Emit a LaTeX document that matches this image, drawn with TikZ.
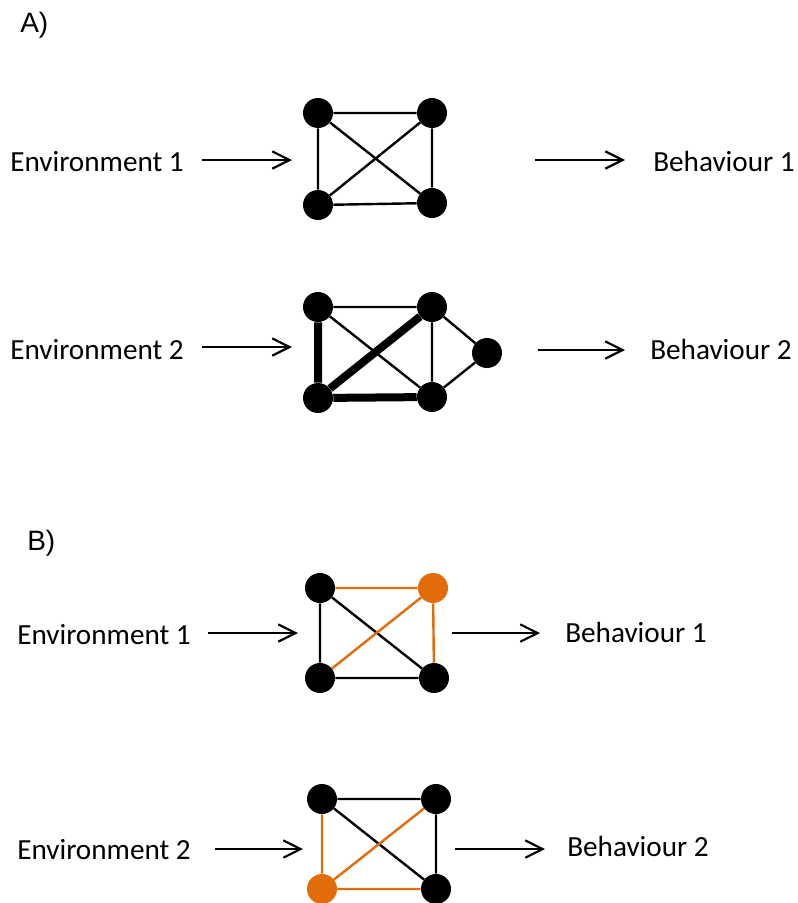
\documentclass[tikz,border=0pt]{standalone}
\usepackage{fontspec}
\setmainfont{Carlito}
\newfontfamily\labelfont{Liberation Sans}
\usetikzlibrary{arrows.meta}
\definecolor{accent}{RGB}{227,108,10}
\begin{document}
\begin{tikzpicture}[x=0.75pt,y=-0.75pt,
  vert/.style={circle,fill=black,inner sep=0pt,minimum size=22.5pt},
  hot/.style={vert,fill=accent},
  edge/.style={line width=1.8pt},
  heavy/.style={line width=6pt},
  hotedge/.style={line width=1.8pt,draw=accent},
  flow/.style={line width=1.6pt,-{Straight Barb[length=13pt,width=13pt,line width=1.6pt]}},
  lbl/.style={inner sep=0pt,anchor=base west,font=\fontsize{21.9}{26}\selectfont},
  panel/.style={inner sep=0pt,anchor=base west,font=\labelfont\fontsize{21}{25}\selectfont}]
\useasboundingbox (0,0) rectangle (798,903);

% ---------- Panel A ----------
\node[panel] (pa) at (20,32) {A)};

% first network
\node[vert] (a1) at (318,113) {};
\node[vert] (a2) at (432,113) {};
\node[vert] (a3) at (318,205) {};
\node[vert] (a4) at (432,203) {};
\draw[edge] (a1) -- (a2) (a1) -- (a3) (a2) -- (a4) (a3) -- (a4) (a1) -- (a4) (a2) -- (a3);

\node[lbl] (e1) at (10,171) {Environment 1};
\coordinate (e1s) at (202,160);
\coordinate (e1t) at (292,160);
\draw[flow] (e1s) -- (e1t);
\coordinate (b1s) at (535,160);
\coordinate (b1t) at (625,160);
\draw[flow] (b1s) -- (b1t);
\node[lbl] (o1) at (653,171) {Behaviour 1};

% second network
\node[vert] (c1) at (318,307) {};
\node[vert] (c2) at (432,307) {};
\node[vert] (c3) at (318,398) {};
\node[vert] (c4) at (432,397) {};
\node[vert] (c5) at (487,353) {};
\draw[edge] (c1) -- (c2) (c2) -- (c4) (c1) -- (c4) (c2) -- (c5) (c4) -- (c5);
\draw[heavy] (c1) -- (c3) (c3) -- (c2) (c3) -- (c4);

\node[lbl] (e2) at (10,359) {Environment 2};
\coordinate (e2s) at (202,347);
\coordinate (e2t) at (292,347);
\draw[flow] (e2s) -- (e2t);
\coordinate (b2s) at (538,350);
\coordinate (b2t) at (625,350);
\draw[flow] (b2s) -- (b2t);
\node[lbl] (o2) at (650,359) {Behaviour 2};

% ---------- Panel B ----------
\node[panel] (pb) at (27,550) {B)};

% first network
\node[vert] (d1) at (320,588) {};
\node[hot] (d2) at (433,588) {};
\node[vert] (d3) at (320,678) {};
\node[vert] (d4) at (434,678) {};
\draw[edge] (d1) -- (d3) (d1) -- (d4) (d3) -- (d4);
\draw[hotedge] (d1) -- (d2) (d2) -- (d3) (d2) -- (d4);

\node[lbl] (e3) at (17,644) {Environment 1};
\coordinate (e3s) at (208,633);
\coordinate (e3t) at (298,633);
\draw[flow] (e3s) -- (e3t);
\coordinate (b3s) at (452,633);
\coordinate (b3t) at (540,633);
\draw[flow] (b3s) -- (b3t);
\node[lbl] (o3) at (565,642) {Behaviour 1};

% second network
\node[vert] (f1) at (322,799) {};
\node[vert] (f2) at (436,799) {};
\node[hot] (f3) at (322,889) {};
\node[vert] (f4) at (436,889) {};
\draw[edge] (f1) -- (f2) (f1) -- (f4) (f2) -- (f4);
\draw[hotedge] (f1) -- (f3) (f3) -- (f2) (f3) -- (f4);

\node[lbl] (e4) at (17,859) {Environment 2};
\coordinate (e4s) at (215,849);
\coordinate (e4t) at (303,849);
\draw[flow] (e4s) -- (e4t);
\coordinate (b4s) at (455,849);
\coordinate (b4t) at (545,849);
\draw[flow] (b4s) -- (b4t);
\node[lbl] (o4) at (567,856) {Behaviour 2};
\end{tikzpicture}
\end{document}
